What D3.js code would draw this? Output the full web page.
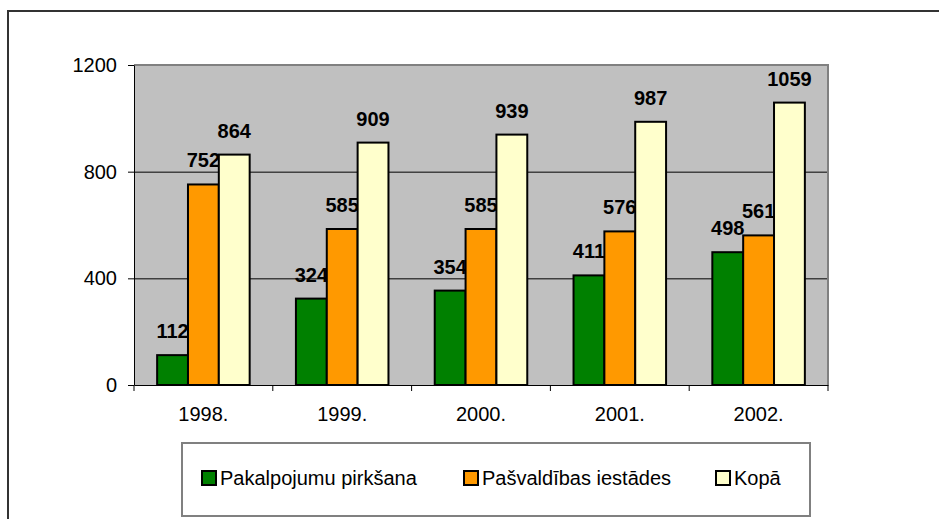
<!DOCTYPE html>
<html>
<head>
<meta charset="utf-8">
<script src="https://cdn.jsdelivr.net/npm/d3@7"></script>
<style>
  body { margin: 0; background: #fff; }
  svg { display: block; font-family: Arial, "Liberation Sans", sans-serif; }
</style>
</head>
<body>
<svg id="chart" width="939" height="519"></svg>
<script>
var categories = ["1998.", "1999.", "2000.", "2001.", "2002."];
var seriesNames = ["Pakalpojumu pirkšana", "Pašvaldības iestādes", "Kopā"];
var pakalpojumi = [112, 324, 354, 411, 498];
var pasvaldibas = [752, 585, 585, 576, 561];
var kopa = [864, 909, 939, 987, 1059];
var yTicks = [0, 400, 800, 1200];
var colors = ["#008000", "#ff9900", "#ffffcc"];

var values = [pakalpojumi, pasvaldibas, kopa];

var svg = d3.select("#chart");
var pLeft = 134, pTop = 65, pRight = 828, pBottom = 385;

// outer frame
svg.append("rect").attr("x", 8).attr("y", 11).attr("width", 960).attr("height", 540)
    .attr("fill", "none").attr("stroke", "#333").attr("stroke-width", 2);

var x0 = d3.scaleBand().domain(categories).range([pLeft, pRight]).padding(0);
var bw = x0.bandwidth();
var x1 = d3.scaleBand().domain(d3.range(seriesNames.length))
    .range([bw * 0.75 / 4.5, bw * 3.75 / 4.5]).padding(0);
var y = d3.scaleLinear().domain([0, 1200]).range([pBottom, pTop]);

// plot area
svg.append("rect").attr("x", pLeft).attr("y", pTop).attr("width", pRight - pLeft).attr("height", pBottom - pTop)
    .attr("fill", "#c0c0c0");
svg.append("path").attr("d", "M" + pLeft + "," + pTop + "H" + pRight + "V" + pBottom)
    .attr("fill", "none").attr("stroke", "#808080").attr("stroke-width", 2);

// gridlines
svg.append("g").selectAll("line").data([400, 800]).join("line")
    .attr("x1", pLeft).attr("x2", pRight - 1)
    .attr("y1", function (d) { return y(d) + 0.5; }).attr("y2", function (d) { return y(d) + 0.5; })
    .attr("stroke", "#000").attr("stroke-width", 1);

// bars and labels, series by series
values.forEach(function (vals, s) {
    var g = svg.append("g");
    g.selectAll("rect").data(vals).join("rect")
        .attr("x", function (d, i) { return x0(categories[i]) + x1(s); })
        .attr("y", function (d) { return y(d); })
        .attr("width", x1.bandwidth())
        .attr("height", function (d) { return pBottom - y(d); })
        .attr("fill", colors[s])
        .attr("stroke", "#000").attr("stroke-width", 2);
    g.selectAll("text").data(vals).join("text")
        .attr("x", function (d, i) { return x0(categories[i]) + x1(s) + x1.bandwidth() / 2; })
        .attr("y", function (d) { return y(d) - 17; })
        .attr("text-anchor", "middle")
        .attr("font-size", 20).attr("font-weight", "bold")
        .text(function (d) { return d; });
});

// y axis
var yAxis = svg.append("g").attr("transform", "translate(" + pLeft + ",0)")
    .call(d3.axisLeft(y).tickValues(yTicks).tickFormat(d3.format("d")).tickSize(6).tickPadding(11).tickSizeOuter(0));
yAxis.select(".domain").attr("stroke", "#000");
yAxis.selectAll("text").attr("font-size", 20).attr("fill", "#000").attr("font-family", null);

// x axis
var xAxis = svg.append("g").attr("transform", "translate(0," + pBottom + ")")
    .call(d3.axisBottom(x0).tickSize(0).tickPadding(22).tickSizeOuter(0));
xAxis.select(".domain").attr("stroke", "#000");
xAxis.selectAll("text").attr("font-size", 20).attr("fill", "#000").attr("font-family", null);
xAxis.selectAll("line.sep").data(categories.concat([null])).join("line")
    .attr("class", "sep")
    .attr("x1", function (d, i) { return pLeft + i * bw; })
    .attr("x2", function (d, i) { return pLeft + i * bw; })
    .attr("y1", 0).attr("y2", 6)
    .attr("stroke", "#000");

// legend
var legend = svg.append("g");
legend.append("rect").attr("x", 182).attr("y", 443).attr("width", 628).attr("height", 73)
    .attr("fill", "#fff").attr("stroke", "#808080").attr("stroke-width", 2);
var legX = [202, 464, 716];
seriesNames.forEach(function (name, s) {
    legend.append("rect").attr("x", legX[s]).attr("y", 471).attr("width", 14).attr("height", 14)
        .attr("fill", colors[s]).attr("stroke", "#000").attr("stroke-width", 2);
    legend.append("text").attr("x", legX[s] + 18).attr("y", 485)
        .attr("font-size", 20).text(name);
});
</script>
</body>
</html>
